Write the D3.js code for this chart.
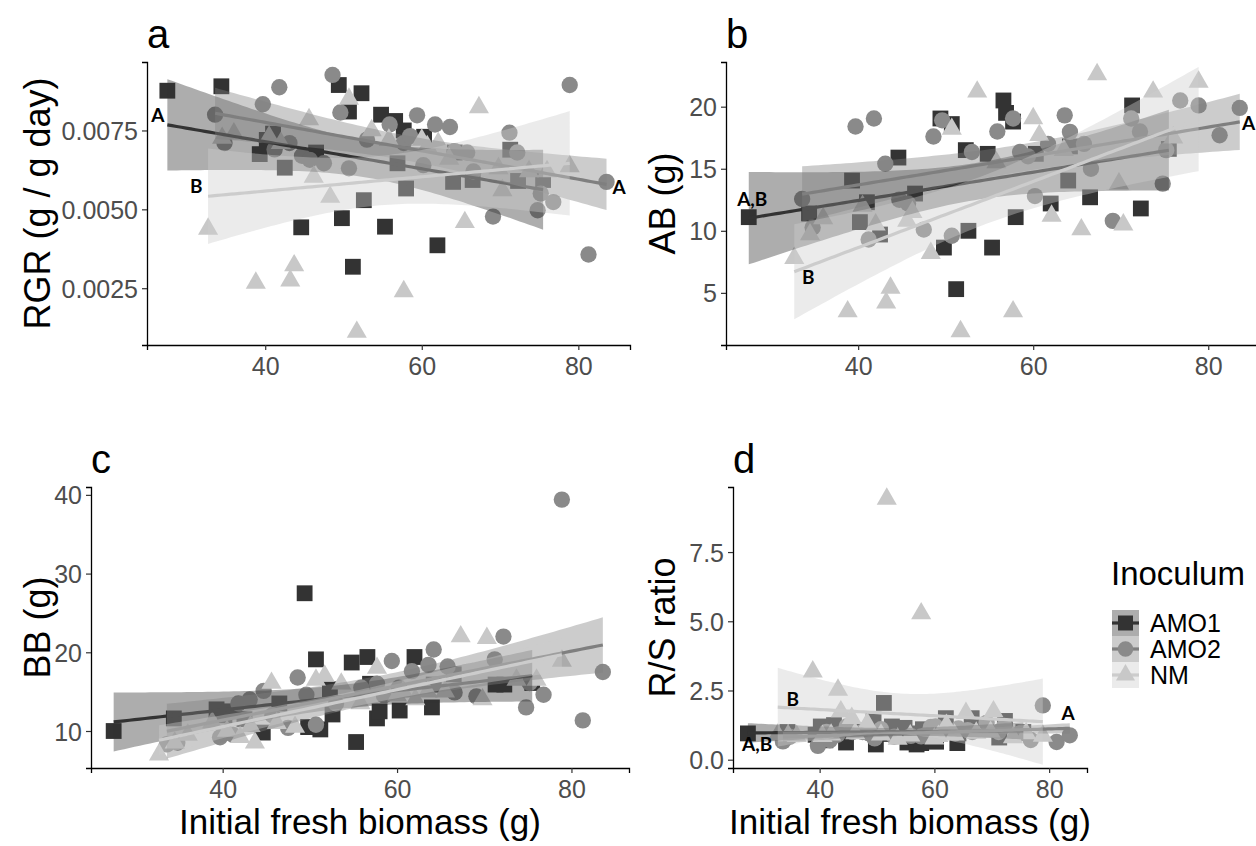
<!DOCTYPE html>
<html><head><meta charset="utf-8">
<script src="https://cdn.jsdelivr.net/npm/d3@7"></script>
<style>
body{margin:0;background:#fff}
svg{display:block}
text{font-family:"Liberation Sans",Arial,Helvetica,sans-serif}
</style>
</head><body>
<svg id="chart" width="1256" height="846"></svg>
<script>
// ---------------- data ----------------
const groups = ["AMO1", "AMO2", "NM"];

const x_AMO1   = [27.5,34.4,39.3,40.2,41.0,42.5,44.6,46.5,49.4,49.8,50.7,51.2,52.3,52.6,54.8,55.3,56.6,56.9,57.7,58.0,60.3,62.0,64.0,64.2,66.5,71.3,72.3,75.5];
const RGR_AMO1 = [0.00876,0.0089,0.00675,0.0072,0.0074,0.00632,0.00443,0.0068,0.00894,0.00472,0.0081,0.00318,0.00868,0.00529,0.0080,0.00445,0.0078,0.00646,0.0075,0.00566,0.0073,0.00386,0.00587,0.0068,0.00593,0.00689,0.0059,0.00593];
const AB_AMO1  = [11.1,11.4,14.05,10.7,12.3,9.7,15.9,13.0,19.05,8.65,18.6,5.3,16.5,10.0,16.2,8.65,20.5,19.5,18.8,11.1,16.2,12.2,14.05,16.8,12.7,20.1,11.8,16.6];
const BB_AMO1  = [10.0,11.6,12.75,12.0,12.5,11.5,9.8,13.5,27.5,10.5,19.1,10.2,15.3,12.1,18.7,8.6,19.4,16.0,11.6,12.5,12.6,19.4,13.0,15.9,17.2,15.9,15.9,16.1];
const RS_AMO1  = [0.95,1.0,0.9,1.2,0.7,1.25,0.62,1.05,1.45,0.55,1.0,2.05,0.93,1.2,1.15,0.62,0.95,0.55,0.6,1.1,0.65,1.5,0.6,0.95,1.5,0.8,1.4,1.0];

const x_AMO2   = [33.6,34.8,39.7,41.2,41.8,43.1,44.7,45.7,47.5,48.6,49.6,50.7,53.0,55.9,57.7,58.5,59.4,60.2,61.7,63.6,64.2,65.8,66.6,69.1,71.2,72.2,74.8,75.2,76.8,78.9,81.3,83.6];
const RGR_AMO2 = [0.0080,0.0071,0.00833,0.0069,0.00887,0.0071,0.0067,0.00657,0.00646,0.00926,0.00807,0.0063,0.00721,0.00769,0.0071,0.00732,0.00798,0.0064,0.00769,0.00761,0.00684,0.0068,0.0062,0.00477,0.00743,0.0068,0.00497,0.0055,0.00523,0.00894,0.00357,0.00587];
const AB_AMO2  = [12.57,10.27,18.4,9.3,19.05,15.4,12.5,12.2,10.1,17.6,18.9,9.6,16.35,18.0,19.05,16.35,16.0,12.8,17.0,19.3,17.97,17.0,15.0,10.8,19.05,18.0,13.8,16.5,20.5,20.1,17.7,19.9];
const BB_AMO2  = [8.3,8.5,9.2,9.5,13.5,14.0,15.1,12.0,10.4,16.8,14.6,10.8,13.5,15.5,16.0,14.5,18.9,15.5,17.6,18.4,20.35,18.2,14.9,14.4,19.1,22.0,13.0,16.1,14.6,39.4,11.35,17.5];
const RS_AMO2  = [0.66,0.83,0.5,1.0,0.7,0.9,1.2,1.0,1.0,0.95,0.77,1.1,0.83,0.86,0.84,0.89,1.18,1.2,1.03,0.95,1.13,1.07,1.0,1.33,1.0,1.22,0.94,0.98,0.71,1.96,0.64,0.88];

const x_NM     = [32.7,34.5,36.0,38.8,40.5,42.0,43.2,43.7,45.6,46.2,48.3,50.7,51.7,53.6,55.8,57.7,60.0,60.7,62.1,63.5,65.5,67.3,69.8,70.3,73.7,76.0,78.9];
const RGR_NM   = [0.00438,0.00726,0.0074,0.00267,0.0073,0.0071,0.00274,0.00322,0.00785,0.00603,0.00539,0.0085,0.00111,0.0075,0.0072,0.0024,0.0072,0.0070,0.0071,0.0066,0.00459,0.00823,0.0063,0.0056,0.0062,0.0062,0.00636];
const AB_NM    = [7.8,9.7,11.0,3.5,12.0,10.5,4.2,5.4,10.8,11.5,8.2,18.2,1.9,21.2,15.5,3.5,19.05,17.7,11.2,16.5,10.1,22.6,13.8,10.5,21.2,17.5,22.0];
const BB_NM    = [7.0,8.5,9.5,11.1,10.0,9.2,10.6,8.5,16.1,11.0,10.5,16.5,17.0,16.0,13.5,18.0,14.5,15.0,14.0,15.0,15.0,22.0,14.0,21.8,16.5,16.5,18.9];
const RS_NM    = [0.9,0.88,0.85,3.18,0.85,0.9,2.52,1.74,1.5,0.95,1.3,0.9,9.42,0.75,0.87,5.28,0.76,0.85,1.25,0.9,1.68,0.97,1.0,1.74,0.8,0.95,0.86];

const xTicks     = [40, 60, 80];
const ticks_RGR  = [0.0025, 0.0050, 0.0075];
const ticks_AB   = [5, 10, 15, 20];
const ticks_BB   = [10, 20, 30, 40];
const ticks_RS   = [0.0, 2.5, 5.0, 7.5];

// letters of significance: [text, x, y]
const letters_RGR = [["A", 26.3, 0.00801], ["B", 31.2, 0.00577], ["A", 85.2, 0.00572]];
const letters_AB  = [["A,B", 27.9, 12.6], ["B", 34.3, 6.3], ["A", 84.6, 18.7]];
const letters_RS  = [["A,B", 29.1, 0.6], ["B", 35.3, 2.2], ["A", 83.3, 1.7]];

// ---------------- styling ----------------
const pointColor = {AMO1: "#333333", AMO2: "#8a8a8a", NM: "#c8c8c8"};
const fitColor   = {AMO1: "#333333", AMO2: "#7f7f7f", NM: "#cccccc"};
const symType    = {AMO1: d3.symbolSquare, AMO2: d3.symbolCircle, NM: d3.symbolTriangle};
const symSize    = {AMO1: 250, AMO2: 210, NM: 175};
const ribbonAlpha = 0.4;

const seriesX = {AMO1: x_AMO1, AMO2: x_AMO2, NM: x_NM};
const panels = [
  {tag: "a", ylab: "RGR (g / g day)", ys: {AMO1: RGR_AMO1, AMO2: RGR_AMO2, NM: RGR_NM}, ticks: ticks_RGR, fmt: d3.format(".4f"),
   dom: [0.0007, 0.00967], left: 147, right: 630, top: 62, bottom: 345, ytx: 37, letters: letters_RGR},
  {tag: "b", ylab: "AB (g)", ys: {AMO1: AB_AMO1, AMO2: AB_AMO2, NM: AB_NM}, ticks: ticks_AB, fmt: d3.format("d"),
   dom: [0.8, 23.6], left: 726, right: 1266, top: 62, bottom: 345, ytx: 662, letters: letters_AB},
  {tag: "c", ylab: "BB (g)", ys: {AMO1: BB_AMO1, AMO2: BB_AMO2, NM: BB_NM}, ticks: ticks_BB, fmt: d3.format("d"),
   dom: [5.3, 41.0], left: 91, right: 629, top: 487, bottom: 768, ytx: 37, letters: [], xtitle: true},
  {tag: "d", ylab: "R/S ratio", ys: {AMO1: RS_AMO1, AMO2: RS_AMO2, NM: RS_NM}, ticks: ticks_RS, fmt: d3.format(".1f"),
   dom: [-0.3, 9.85], left: 733, right: 1087, top: 487, bottom: 768, ytx: 662, letters: letters_RS, xtitle: true}
];
const xDomain = [24.9, 86.6];

// linear model fit with 95% confidence band (as geom_smooth(method = "lm"))
function tq(df) { return 1.96 + 2.37 / df + 2.8 / (df * df); }
function lmBand(xs, ys) {
  const n = xs.length;
  const mx = d3.mean(xs), my = d3.mean(ys);
  let sxx = 0, sxy = 0;
  for (let i = 0; i < n; i++) { sxx += (xs[i] - mx) ** 2; sxy += (xs[i] - mx) * (ys[i] - my); }
  const b = sxy / sxx, a = my - b * mx;
  let sse = 0;
  for (let i = 0; i < n; i++) sse += (ys[i] - a - b * xs[i]) ** 2;
  const s2 = sse / (n - 2), t = tq(n - 2);
  const [x0, x1] = d3.extent(xs);
  return d3.range(81).map(k => {
    const x = x0 + (x1 - x0) * k / 80;
    const fit = a + b * x;
    const se = Math.sqrt(s2 * (1 / n + (x - mx) ** 2 / sxx));
    return {x, fit, lo: fit - t * se, hi: fit + t * se};
  });
}

const svg = d3.select("#chart");
svg.append("rect").attr("width", 1256).attr("height", 846).attr("fill", "#fff");

panels.forEach(p => {
  const g = svg.append("g");
  const x = d3.scaleLinear().domain(xDomain).range([p.left, p.right]);
  const y = d3.scaleLinear().domain(p.dom).range([p.bottom, p.top]);

  // points
  groups.forEach(gr => {
    const xs = seriesX[gr], ys = p.ys[gr];
    g.append("g").selectAll("path").data(xs.map((v, i) => [v, ys[i]])).join("path")
      .attr("d", d3.symbol().type(symType[gr]).size(symSize[gr]))
      .attr("transform", d => `translate(${x(d[0])},${y(d[1])})`)
      .attr("fill", pointColor[gr]);
  });

  // smooths (ribbon + line per group)
  groups.forEach(gr => {
    const band = lmBand(seriesX[gr], p.ys[gr]);
    g.append("path").datum(band)
      .attr("d", d3.area().x(d => x(d.x)).y0(d => y(d.lo)).y1(d => y(d.hi)))
      .attr("fill", fitColor[gr]).attr("fill-opacity", ribbonAlpha);
    g.append("path").datum(band)
      .attr("d", d3.line().x(d => x(d.x)).y(d => y(d.fit)))
      .attr("fill", "none").attr("stroke", fitColor[gr]).attr("stroke-width", 3.2);
  });

  // letters
  g.selectAll("text.let").data(p.letters).join("text").attr("class", "let")
    .attr("x", d => x(d[1])).attr("y", d => y(d[2]))
    .attr("text-anchor", "middle").attr("dominant-baseline", "central")
    .style("font-family", "Lato, 'Open Sans', sans-serif").style("font-weight", 700)
    .style("font-size", "19px").attr("fill", "#000").text(d => d[0]);

  // axes
  const ax = g.append("g").attr("transform", `translate(0,${p.bottom})`)
    .call(d3.axisBottom(x).tickValues(xTicks).tickSizeOuter(0).tickSize(5).tickPadding(7));
  const ay = g.append("g").attr("transform", `translate(${p.left},0)`)
    .call(d3.axisLeft(y).tickValues(p.ticks).tickFormat(p.fmt).tickSizeOuter(0).tickSize(5).tickPadding(4));
  [ax, ay].forEach(a => {
    a.select(".domain").attr("stroke", "#000").attr("stroke-width", 1.3);
    a.selectAll(".tick line").attr("stroke", "#333").attr("stroke-width", 1.2);
    a.selectAll(".tick text").attr("fill", "#4d4d4d").style("font-size", "25px")
      .style("font-family", "'Liberation Sans', Arial, sans-serif");
  });
  ay.selectAll(".tick text").attr("dy", "0.36em");

  // panel tag
  g.append("text").attr("x", p.left).attr("y", p.top - 14)
    .style("font-size", "40px").attr("fill", "#000").text(p.tag);

  // y title
  g.append("text").attr("transform", `translate(${p.ytx},${(p.top + p.bottom) / 2}) rotate(-90)`)
    .attr("text-anchor", "middle").attr("dominant-baseline", "central")
    .style("font-size", "36px").attr("fill", "#000").text(p.ylab);

  // x title
  if (p.xtitle) {
    g.append("text").attr("x", (p.left + p.right) / 2).attr("y", p.bottom + 66)
      .attr("text-anchor", "middle").style("font-size", "35px").attr("fill", "#000")
      .text("Initial fresh biomass (g)");
  }
});

// ---------------- legend ----------------
const lg = svg.append("g");
lg.append("text").attr("x", 1111).attr("y", 585).style("font-size", "33px").attr("fill", "#000").text("Inoculum");
groups.forEach((gr, i) => {
  const top = 610 + i * 26, kx = 1112, kw = 27, kh = 26;
  lg.append("rect").attr("x", kx).attr("y", top).attr("width", kw).attr("height", kh)
    .attr("fill", fitColor[gr]).attr("fill-opacity", ribbonAlpha);
  lg.append("line").attr("x1", kx).attr("x2", kx + kw).attr("y1", top + kh / 2).attr("y2", top + kh / 2)
    .attr("stroke", fitColor[gr]).attr("stroke-width", 3.2);
  lg.append("path").attr("d", d3.symbol().type(symType[gr]).size(symSize[gr] * 0.9))
    .attr("transform", `translate(${kx + kw / 2},${top + kh / 2})`).attr("fill", pointColor[gr]);
  lg.append("text").attr("x", 1150).attr("y", top + kh / 2).attr("dominant-baseline", "central")
    .style("font-size", "25px").attr("fill", "#000").text(gr);
});
</script>
</body></html>
